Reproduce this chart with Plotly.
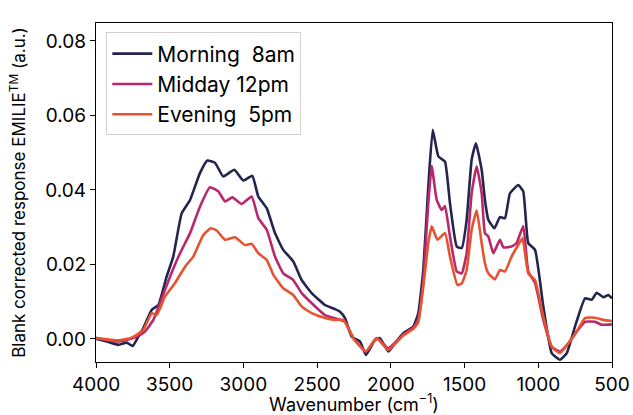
import plotly.graph_objects as go

# Morning 8am
morning_x = [4000, 3995, 3927, 3849, 3792, 3751, 3713, 3679, 3622, 3577, 3521, 3476, 3419, 3362, 3295, 3245, 3193, 3137,
             3062, 3001, 2940, 2899, 2842, 2786, 2730, 2662, 2605, 2537, 2447, 2379, 2345, 2311, 2266, 2209, 2169,
             2108, 2074, 2017, 1972, 1916, 1848, 1814, 1780, 1746, 1716, 1678, 1633, 1599, 1553, 1519, 1486, 1452,
             1423, 1384, 1362, 1339, 1298, 1260, 1226, 1192, 1136, 1102, 1068, 1022, 966, 909, 853, 807, 751, 683,
             638, 604, 559, 525, 500]
morning_y = [0.0000, 0.0000, -0.0007, -0.0016, -0.0010, -0.0019, 0.0006, 0.0029, 0.0078, 0.0091, 0.0167, 0.0221,
             0.0337, 0.0373, 0.0445, 0.0479, 0.0473, 0.0436, 0.0454, 0.0425, 0.0438, 0.0382, 0.0351, 0.0284,
             0.0239, 0.0208, 0.0158, 0.0123, 0.0091, 0.0080, 0.0073, 0.0056, 0.0006, -0.0007, -0.0043, -0.0003,
             0.0002, -0.0034, -0.0012, 0.0015, 0.0033, 0.0069, 0.0185, 0.0409, 0.0561, 0.0490, 0.0476, 0.0364,
             0.0248, 0.0244, 0.0319, 0.0481, 0.0525, 0.0454, 0.0373, 0.0320, 0.0297, 0.0327, 0.0324, 0.0391,
             0.0413, 0.0396, 0.0257, 0.0239, 0.0087, -0.0038, -0.0056, -0.0038, 0.0033, 0.0109, 0.0105, 0.0124,
             0.0112, 0.0118, 0.0109]

# Midday 12pm
midday_x = [4000, 3995, 3860, 3769, 3724, 3668, 3611, 3566, 3498, 3430, 3362, 3295, 3227, 3170, 3125, 3075, 3012,
            2944, 2899, 2842, 2786, 2730, 2662, 2605, 2537, 2447, 2356, 2311, 2254, 2169, 2096, 2017, 1916, 1848,
            1814, 1780, 1746, 1723, 1689, 1655, 1633, 1599, 1553, 1519, 1486, 1452, 1418, 1384, 1362, 1339, 1305,
            1260, 1237, 1181, 1147, 1102, 1068, 1022, 966, 909, 853, 796, 739, 683, 615, 570, 500]
midday_y = [0.0002, 0.0002, -0.0007, 0.0000, 0.0006, 0.0020, 0.0051, 0.0096, 0.0167, 0.0230, 0.0284, 0.0355,
            0.0407, 0.0396, 0.0369, 0.0380, 0.0362, 0.0382, 0.0324, 0.0293, 0.0221, 0.0176, 0.0158, 0.0123,
            0.0096, 0.0064, 0.0053, 0.0046, 0.0002, -0.0034, 0.0002, -0.0025, 0.0012, 0.0030, 0.0053, 0.0158,
            0.0364, 0.0464, 0.0373, 0.0346, 0.0357, 0.0275, 0.0181, 0.0176, 0.0230, 0.0391, 0.0463, 0.0391,
            0.0284, 0.0275, 0.0230, 0.0266, 0.0246, 0.0248, 0.0257, 0.0303, 0.0181, 0.0150, 0.0051, -0.0021,
            -0.0034, -0.0012, 0.0020, 0.0046, 0.0046, 0.0038, 0.0039]

# Evening 5pm
evening_x = [4000, 3995, 3860, 3769, 3724, 3679, 3622, 3588, 3532, 3464, 3396, 3340, 3272, 3222, 3181, 3125, 3057,
             2990, 2944, 2899, 2842, 2797, 2730, 2662, 2605, 2537, 2447, 2379, 2322, 2254, 2169, 2096, 2017, 1916,
             1848, 1814, 1780, 1746, 1723, 1684, 1633, 1599, 1549, 1519, 1486, 1452, 1418, 1384, 1362, 1339, 1294,
             1260, 1226, 1181, 1136, 1107, 1068, 1022, 966, 909, 853, 796, 739, 683, 615, 559, 500]
evening_y = [0.0002, 0.0002, -0.0004, 0.0002, 0.0011, 0.0024, 0.0069, 0.0064, 0.0114, 0.0150, 0.0194, 0.0221,
             0.0279, 0.0297, 0.0291, 0.0266, 0.0273, 0.0252, 0.0255, 0.0230, 0.0212, 0.0172, 0.0136, 0.0118,
             0.0087, 0.0069, 0.0056, 0.0051, 0.0051, 0.0002, -0.0034, 0.0002, -0.0030, 0.0009, 0.0027, 0.0045,
             0.0140, 0.0257, 0.0302, 0.0266, 0.0284, 0.0221, 0.0145, 0.0149, 0.0185, 0.0293, 0.0345, 0.0257,
             0.0203, 0.0176, 0.0160, 0.0185, 0.0181, 0.0221, 0.0252, 0.0270, 0.0176, 0.0158, 0.0060, -0.0021,
             -0.0038, -0.0012, 0.0020, 0.0056, 0.0057, 0.0051, 0.0048]

names = ["Morning  8am", "Midday 12pm", "Evening  5pm"]
colors = ["#23254f", "#b8286a", "#e6532f"]
y_ticks = [0.00, 0.02, 0.04, 0.06, 0.08]
x_ticks = [4000, 3500, 3000, 2500, 2000, 1500, 1000, 500]

FONT = "Inter, Liberation Sans, sans-serif"

fig = go.Figure()
for xs, ys, nm, c in zip([morning_x, midday_x, evening_x], [morning_y, midday_y, evening_y], names, colors):
    fig.add_trace(go.Scatter(x=xs, y=ys, mode="lines", name=nm,
                             line=dict(color=c, width=2.6, shape="spline", smoothing=0.4)))

axis_common = dict(showline=True, linecolor="black", linewidth=1.2, mirror=True,
                   ticks="outside", ticklen=5, tickwidth=1.2, tickcolor="black",
                   showgrid=False, zeroline=False, automargin=False,
                   tickfont=dict(family=FONT, size=19, color="black"))

fig.update_layout(
    width=633, height=415,
    margin=dict(l=96, r=21, t=23, b=53),
    paper_bgcolor="white", plot_bgcolor="white",
    font=dict(family=FONT, color="black"),
    showlegend=True,
    legend=dict(x=0.02, y=0.972, xanchor="left", yanchor="top",
                bordercolor="#d0d0d0", borderwidth=1, bgcolor="white",
                font=dict(family=FONT, size=21, color="black"),
                itemwidth=40, tracegroupgap=0),
    xaxis=dict(range=[4000, 500], tickvals=x_ticks, ticktext=[str(v) for v in x_ticks],
               title=dict(text="Wavenumber (cm<sup>−1</sup>)", font=dict(family=FONT, size=18)),
               **axis_common),
    yaxis=dict(range=[-0.0062, 0.0848], tickvals=y_ticks, ticktext=[f"{v:.2f}" for v in y_ticks],
               title=dict(text="Blank corrected response EMILIE<sup>TM</sup> (a.u.)",
                          font=dict(family=FONT, size=17)),
               **axis_common),
)

fig.write_html("out.html", config={"displayModeBar": False},
               post_script="document.body.style.margin='0';document.body.style.overflow='hidden';")
